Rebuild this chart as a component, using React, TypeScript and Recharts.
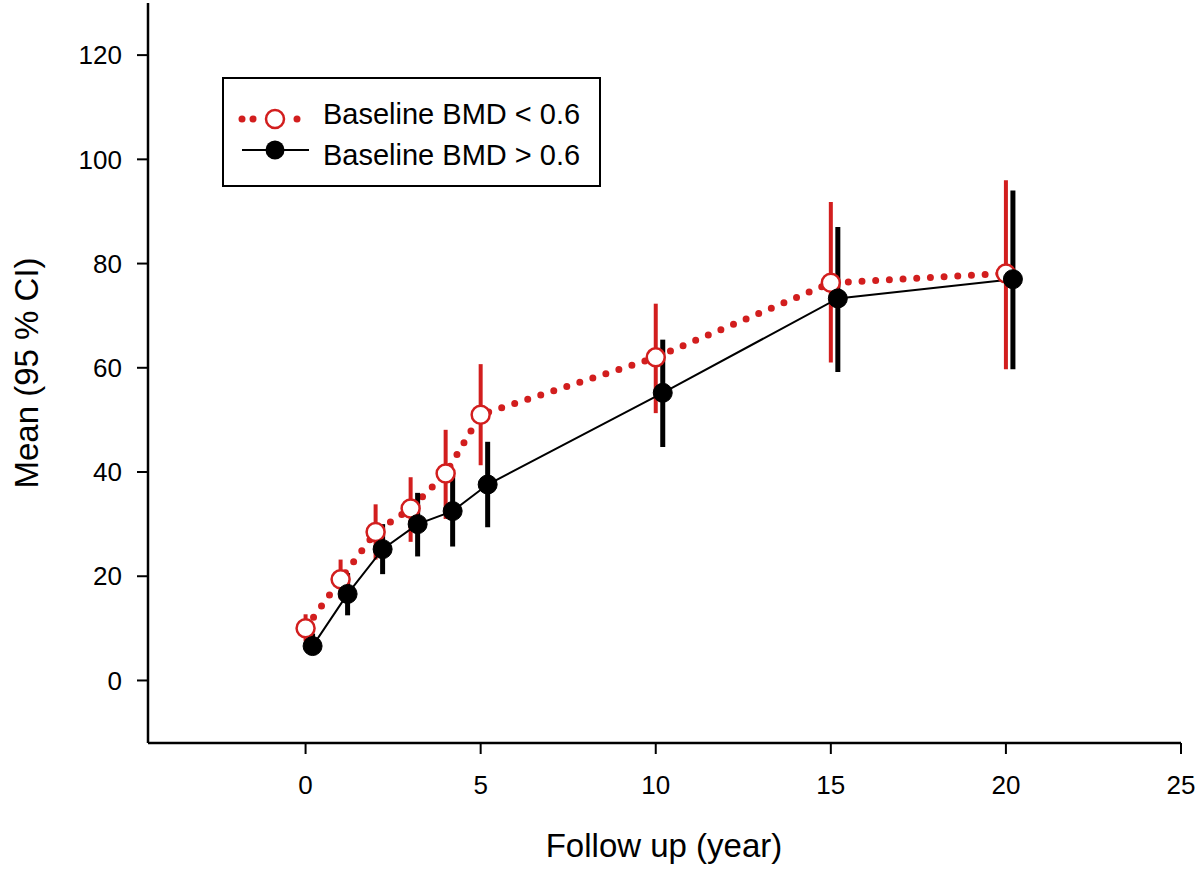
import React from 'react';
import { ComposedChart, Line, XAxis, YAxis, ErrorBar, Legend } from 'recharts';

// follow-up years, low baseline BMD group (open red circles)
const lowBmdYears = [0, 1, 2, 3, 4, 5, 10, 15, 20];
const lowBmdMean = [10.0, 19.4, 28.5, 33.0, 39.7, 51.0, 62.0, 76.3, 78.1];
const lowBmdLower = [7.5, 15.6, 23.2, 26.6, 31.0, 41.3, 51.3, 61.0, 59.7];
const lowBmdUpper = [12.7, 23.2, 33.8, 39.0, 48.1, 60.7, 72.3, 91.8, 96.0];

// high baseline BMD group (filled black circles), plotted slightly offset
const highBmdYears = [0.2, 1.2, 2.2, 3.2, 4.2, 5.2, 10.2, 15.2, 20.2];
const highBmdMean = [6.6, 16.6, 25.2, 30.0, 32.5, 37.6, 55.2, 73.3, 77.0];
const highBmdLower = [5.0, 12.5, 20.4, 23.8, 25.7, 29.4, 44.8, 59.2, 59.7];
const highBmdUpper = [9.0, 20.6, 30.0, 36.0, 39.2, 45.8, 65.4, 87.0, 94.0];

const xTicks = [0, 5, 10, 15, 20, 25];
const yTicks = [0, 20, 40, 60, 80, 100, 120];

const RED = '#d21e1e';
const FONT = '"Liberation Sans", Arial, sans-serif';

const lowData = lowBmdYears.map((year, i) => ({
  year,
  mean: lowBmdMean[i],
  ci: [lowBmdMean[i] - lowBmdLower[i], lowBmdUpper[i] - lowBmdMean[i]],
}));

const highData = highBmdYears.map((year, i) => ({
  year,
  mean: highBmdMean[i],
  ci: [highBmdMean[i] - highBmdLower[i], highBmdUpper[i] - highBmdMean[i]],
}));

const renderLegend = () => (
  <svg width={380} height={111} style={{ display: 'block' }}>
    <rect x={1} y={1} width={377} height={108} fill="#fff" stroke="#000" strokeWidth={2} />
    <circle cx={20} cy={42} r={3.5} fill={RED} />
    <circle cx={31} cy={42} r={3.5} fill={RED} />
    <circle cx={53} cy={42} r={9} fill="#fff" stroke={RED} strokeWidth={2.5} />
    <circle cx={75} cy={42} r={3.5} fill={RED} />
    <text x={101} y={47} fontSize={29} fontFamily={FONT} fill="#000">Baseline BMD &lt; 0.6</text>
    <line x1={20} y1={73} x2={87} y2={73} stroke="#000" strokeWidth={2} />
    <circle cx={53} cy={73} r={9.5} fill="#000" />
    <text x={101} y={88} fontSize={29} fontFamily={FONT} fill="#000">Baseline BMD &gt; 0.6</text>
  </svg>
);

export default function App() {
  return (
    <div style={{ position: 'absolute', left: 0, top: 0, width: 1200, height: 869, background: '#fff' }}>
      <ComposedChart width={1200} height={869} margin={{ top: 3, right: 19, left: 0, bottom: 0 }}>
        <XAxis
          type="number"
          dataKey="year"
          domain={[-4.5, 25]}
          ticks={xTicks}
          allowDataOverflow
          height={126}
          tickSize={11}
          tickMargin={22}
          axisLine={{ stroke: '#000', strokeWidth: 2.5 }}
          tickLine={{ stroke: '#000', strokeWidth: 2 }}
          tick={{ fontSize: 26, fill: '#000', fontFamily: FONT }}
          label={{
            content: () => (
              <text x={664} y={857} textAnchor="middle" fontSize={33} fontFamily={FONT} fill="#000">
                Follow up (year)
              </text>
            ),
          }}
        />
        <YAxis
          type="number"
          domain={[-12, 130]}
          ticks={yTicks}
          allowDataOverflow
          width={148}
          tickSize={11}
          tickMargin={15}
          axisLine={{ stroke: '#000', strokeWidth: 2.5 }}
          tickLine={{ stroke: '#000', strokeWidth: 2 }}
          tick={{ fontSize: 26, fill: '#000', fontFamily: FONT }}
          label={{
            content: () => (
              <text
                x={38}
                y={373}
                transform="rotate(-90 38 373)"
                textAnchor="middle"
                fontSize={33}
                fontFamily={FONT}
                fill="#000"
              >
                Mean (95 % CI)
              </text>
            ),
          }}
        />
        <Legend
          layout="horizontal"
          verticalAlign="middle"
          align="center"
          wrapperStyle={{ left: 222, top: 77, width: 380, height: 111 }}
          content={renderLegend}
        />
        <Line
          data={lowData}
          dataKey="mean"
          name="Baseline BMD < 0.6"
          type="linear"
          stroke={RED}
          strokeWidth={7}
          strokeDasharray="0 13.7"
          strokeLinecap="round"
          isAnimationActive={false}
          dot={{ r: 9, fill: '#fff', stroke: RED, strokeWidth: 2.5, strokeDasharray: 'none' }}
          activeDot={false}
        >
          <ErrorBar dataKey="ci" direction="y" width={0} stroke={RED} strokeWidth={4} />
        </Line>
        <Line
          data={highData}
          dataKey="mean"
          name="Baseline BMD > 0.6"
          type="linear"
          stroke="#000"
          strokeWidth={2}
          isAnimationActive={false}
          dot={{ r: 9.5, fill: '#000', stroke: '#000', strokeWidth: 1 }}
          activeDot={false}
        >
          <ErrorBar dataKey="ci" direction="y" width={0} stroke="#000" strokeWidth={5} />
        </Line>
      </ComposedChart>
    </div>
  );
}
